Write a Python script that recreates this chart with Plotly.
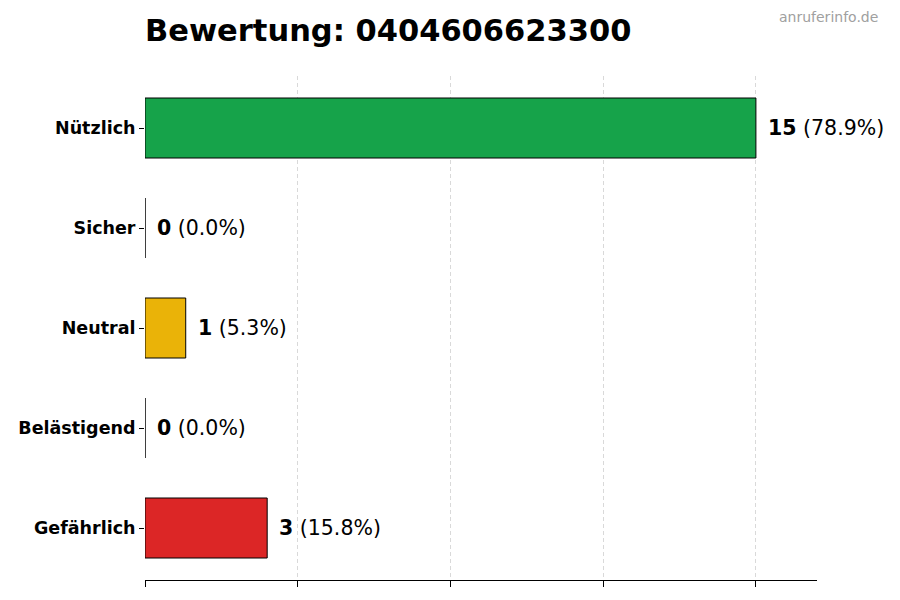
import plotly.graph_objects as go

# Bewertungen (von unten nach oben)
kategorien = ['Gefährlich', 'Belästigend', 'Neutral', 'Sicher', 'Nützlich']
anzahl = [3, 0, 1, 0, 15]
prozent = [15.8, 0.0, 5.3, 0.0, 78.9]
farben = ['#dc2626', '#f97316', '#eab308', '#22c55e', '#16a34a']
x_ticks = [0, 3.75, 7.5, 11.25, 15]

fig = go.Figure()
fig.add_trace(go.Bar(
    x=anzahl, y=kategorien, orientation='h', width=0.6,
    marker=dict(color=farben, line=dict(color='#000000', width=1)),
    hoverinfo='skip',
))

for k, n, p in zip(kategorien, anzahl, prozent):
    fig.add_annotation(
        x=n, y=k, text=f'<b>{n}</b> ({p:.1f}%)', showarrow=False,
        xanchor='left', xshift=10, font=dict(size=20.5, color='#000000'),
    )

fig.add_annotation(
    xref='paper', yref='paper', x=1.094, y=1.117, xanchor='right', yanchor='middle',
    text='anruferinfo.de', showarrow=False, font=dict(size=14, color='#a0a0a0'),
)

# seite hat 8px body-rand, daher ränder etwas kleiner
fig.update_layout(
    width=900, height=600,
    margin=dict(l=137, r=91, t=68, b=28),
    plot_bgcolor='white', paper_bgcolor='white',
    font=dict(family='DejaVu Sans', color='#000000'),
    title=dict(text='<b>Bewertung: 0404606623300</b>', x=137/900, xanchor='left',
               y=0.962, yanchor='middle', font=dict(size=30.5, color='#000000')),
    showlegend=False,
)
fig.update_xaxes(
    range=[0, 16.5], tickvals=x_ticks, showticklabels=False,
    ticks='outside', ticklen=6, tickcolor='#000000',
    showgrid=True, gridcolor='#d9d9d9', griddash='4px,3px', gridwidth=1,
    showline=True, linecolor='#000000', linewidth=1, zeroline=False,
    automargin=False,
)
fig.update_yaxes(
    categoryorder='array', categoryarray=kategorien, range=[-0.52, 4.52],
    ticks='outside', ticklen=5, tickcolor='#000000', showgrid=False,
    tickfont=dict(size=17.5, color='#000000', family='DejaVu Sans', weight='bold'),
    showline=False, zeroline=False, automargin=False,
)

fig.write_html('out.html')
